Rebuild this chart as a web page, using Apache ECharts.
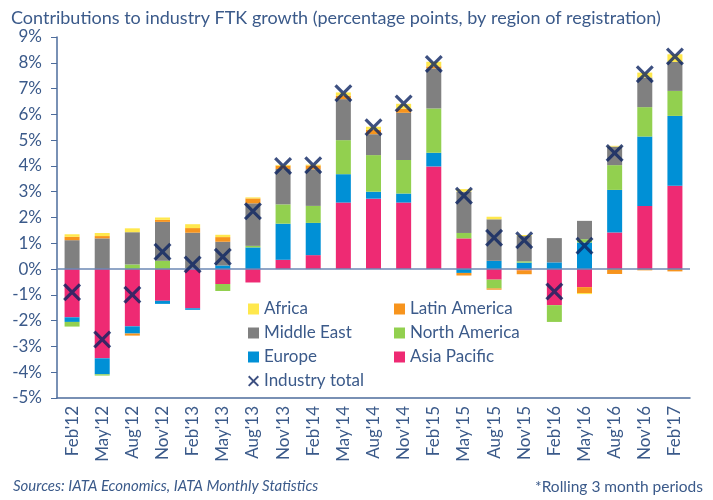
<!DOCTYPE html>
<html>
<head>
<meta charset="utf-8">
<script src="https://cdn.jsdelivr.net/npm/echarts@6/dist/echarts.min.js"></script>
<style>
  html, body { margin: 0; padding: 0; background: #fff; }
  #chart { width: 713px; height: 500px; }
</style>
</head>
<body>
<div id="chart"></div>
<script>
"use strict";

const categories = ["Feb'12", "May'12", "Aug'12", "Nov'12", "Feb'13", "May'13", "Aug'13", "Nov'13", "Feb'14", "May'14", "Aug'14",
  "Nov'14", "Feb'15", "May'15", "Aug'15", "Nov'15", "Feb'16", "May'16", "Aug'16", "Nov'16", "Feb'17"];

// percentage points
const asiaPacific = [-1.87, -3.46, -2.22, -1.23, -1.52, -0.58, -0.52, 0.36, 0.54, 2.58, 2.73, 2.58, 3.98, 1.19, -0.41, -0.05, -1.40, -0.70, 1.42, 2.45, 3.23];
const europe = [-0.18, -0.62, -0.28, -0.12, -0.06, 0.14, 0.84, 1.40, 1.25, 1.10, 0.27, 0.35, 0.53, -0.15, 0.32, 0.25, 0.26, 1.03, 1.65, 2.69, 2.71];
const northAmerica = [-0.18, -0.05, 0.18, 0.32, 0, -0.27, 0.06, 0.75, 0.66, 1.32, 1.42, 1.30, 1.72, 0.21, -0.34, 0.05, -0.65, 0.13, 0.96, 1.14, 0.97];
const middleEast = [1.12, 1.19, 1.25, 1.51, 1.41, 0.92, 1.65, 1.37, 1.42, 1.59, 0.81, 1.83, 1.55, 1.60, 1.61, 0.98, 0.94, 0.71, 0.72, 1.15, 1.12];
const latinAmerica = [0.13, 0.09, -0.08, 0.08, 0.18, 0.18, 0.19, 0.13, 0.15, 0.13, 0.17, 0.16, 0.08, -0.10, -0.05, -0.15, 0, -0.23, -0.19, -0.05, -0.09];
const africa = [0.10, 0.12, 0.15, 0.09, 0.15, 0.09, 0.04, 0.03, 0.03, 0.13, 0.12, 0.19, 0.18, 0.10, 0.10, 0.04, 0, -0.04, 0.03, 0.19, 0.30];
const industryTotal = [-0.90, -2.73, -1.00, 0.67, 0.18, 0.48, 2.24, 4.00, 4.03, 6.82, 5.50, 6.42, 7.95, 2.84, 1.21, 1.12, -0.87, 0.90, 4.50, 7.56, 8.24];

const yTicks = { min: -5, max: 9, step: 1 };

const FONT = "Lato";
const TXT = "#3b5a8a";
const AXIS = "#4d6c9c";
const X_PATH = "path://M2.5,0 L10,7.5 L17.5,0 L20,2.5 L12.5,10 L20,17.5 L17.5,20 L10,12.5 L2.5,20 L0,17.5 L7.5,10 L0,2.5 Z";

const regions = [
  { name: "Asia Pacific", data: asiaPacific, color: "#ee2a73" },
  { name: "Europe", data: europe, color: "#0090d6" },
  { name: "North America", data: northAmerica, color: "#92d04f" },
  { name: "Middle East", data: middleEast, color: "#808080" },
  { name: "Latin America", data: latinAmerica, color: "#f7941d" },
  { name: "Africa", data: africa, color: "#ffe84d" },
];

const series = regions.map((r, i) => ({
  name: r.name,
  type: "bar",
  stack: "total",
  barWidth: 15,
  data: r.data,
  itemStyle: { color: r.color },
  ...(i === 0 ? {
    markLine: {
      silent: true, symbol: "none", label: { show: false },
      lineStyle: { color: "#6d89b5", width: 1.5, type: "solid" },
      data: [{ yAxis: 0 }],
    },
  } : {}),
}));

series.push({
  name: "Industry total",
  type: "scatter",
  symbol: X_PATH,
  symbolSize: 18,
  z: 5,
  data: industryTotal,
  itemStyle: { color: "#0d2461" },
});

const legendText = { fontFamily: FONT, fontSize: 17, color: TXT, lineHeight: 20 };

const chart = echarts.init(document.getElementById("chart"));
chart.setOption({
  animation: false,
  textStyle: { fontFamily: FONT },
  title: {
    text: "Contributions to industry FTK growth (percentage points, by region of registration)",
    left: 6, top: 4,
    textStyle: { fontFamily: FONT, fontSize: 18, fontWeight: "normal", color: TXT },
  },
  legend: [
    {
      orient: "vertical", left: 243, top: 294, itemWidth: 11, itemHeight: 11, itemGap: 4,
      textStyle: legendText,
      data: [
        { name: "Africa", icon: "rect" },
        { name: "Middle East", icon: "rect" },
        { name: "Europe", icon: "rect" },
        { name: "Industry total", icon: X_PATH },
      ],
    },
    {
      orient: "vertical", left: 389, top: 294, itemWidth: 11, itemHeight: 11, itemGap: 4,
      textStyle: legendText,
      data: [
        { name: "Latin America", icon: "rect" },
        { name: "North America", icon: "rect" },
        { name: "Asia Pacific", icon: "rect" },
      ],
    },
  ],
  grid: { left: 57, right: 23, top: 37, bottom: 102 },
  xAxis: {
    type: "category",
    data: categories,
    axisLine: { onZero: false, lineStyle: { color: AXIS, width: 1.5 } },
    axisTick: { length: 5, lineStyle: { color: AXIS } },
    axisLabel: { rotate: 90, margin: 8, fontFamily: FONT, fontSize: 17, color: TXT },
  },
  yAxis: {
    type: "value",
    min: yTicks.min, max: yTicks.max, interval: yTicks.step,
    axisLine: { show: true, lineStyle: { color: AXIS, width: 1.5 } },
    axisTick: { show: true, length: 6, lineStyle: { color: AXIS } },
    splitLine: { show: false },
    axisLabel: { formatter: "{value}%", margin: 15, fontFamily: FONT, fontSize: 17, color: TXT },
  },
  graphic: [
    {
      type: "text", left: 13, top: 479,
      style: { text: "Sources: IATA Economics, IATA Monthly Statistics", fontFamily: FONT, fontSize: 15, fontStyle: "italic", fill: TXT },
    },
    {
      type: "text", right: 10, top: 479,
      style: { text: "*Rolling 3 month periods", fontFamily: FONT, fontSize: 15.5, fill: TXT },
    },
  ],
  series,
});
</script>
</body>
</html>
